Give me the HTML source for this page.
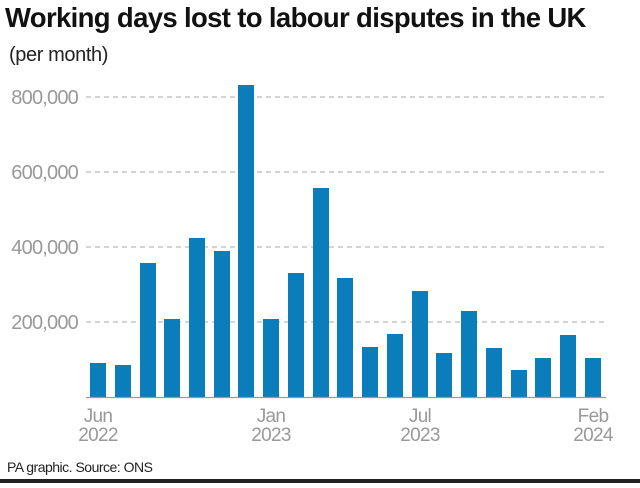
<!DOCTYPE html>
<html><head><style>
body{margin:0;background:#fff;width:640px;height:483px;overflow:hidden;font-family:"Liberation Sans",sans-serif;}
</style></head><body>
<svg width="640" height="483" xmlns="http://www.w3.org/2000/svg" font-family="Liberation Sans, sans-serif">
<text x="5" y="27" font-size="27.5" font-weight="bold" fill="#111" letter-spacing="-0.65">Working days lost to labour disputes in the UK</text>
<text x="9" y="61" font-size="20" fill="#222" letter-spacing="-0.4">(per month)</text>
<g stroke="#aaa" stroke-dasharray="5,4" stroke-width="1">
<line x1="86" y1="97" x2="606" y2="97"/><line x1="86" y1="172" x2="606" y2="172"/>
<line x1="86" y1="247" x2="606" y2="247"/><line x1="86" y1="322" x2="606" y2="322"/>
</g>
<g font-size="20" fill="#999" text-anchor="end" letter-spacing="-0.8">
<text x="78" y="104">800,000</text><text x="78" y="179">600,000</text>
<text x="78" y="254">400,000</text><text x="78" y="329">200,000</text>
</g>
<g fill="#0a7dba">
<rect x="90" y="363" width="16" height="34"/>
<rect x="115" y="365" width="16" height="32"/>
<rect x="140" y="263" width="16" height="134"/>
<rect x="164" y="319" width="16" height="78"/>
<rect x="189" y="238" width="16" height="159"/>
<rect x="214" y="251" width="16" height="146"/>
<rect x="238" y="85" width="16" height="312"/>
<rect x="263" y="319" width="16" height="78"/>
<rect x="288" y="273" width="16" height="124"/>
<rect x="313" y="188" width="16" height="209"/>
<rect x="337" y="278" width="16" height="119"/>
<rect x="362" y="347" width="16" height="50"/>
<rect x="387" y="334" width="16" height="63"/>
<rect x="412" y="291" width="16" height="106"/>
<rect x="436" y="353" width="16" height="44"/>
<rect x="461" y="311" width="16" height="86"/>
<rect x="486" y="348" width="16" height="49"/>
<rect x="511" y="370" width="16" height="27"/>
<rect x="535" y="358" width="16" height="39"/>
<rect x="560" y="335" width="16" height="62"/>
<rect x="585" y="358" width="16" height="39"/>
</g>
<line x1="86" y1="397.5" x2="606" y2="397.5" stroke="#999" stroke-width="1.2"/>
<g font-size="19" fill="#999" text-anchor="middle" letter-spacing="-0.7">
<text x="98" y="422">Jun</text><text x="98" y="441">2022</text>
<text x="271" y="422">Jan</text><text x="271" y="441">2023</text>
<text x="420" y="422">Jul</text><text x="420" y="441">2023</text>
<text x="593" y="422">Feb</text><text x="593" y="441">2024</text>
</g>
<text x="7" y="472" font-size="14" fill="#222" letter-spacing="-0.5">PA graphic. Source: ONS</text>
<rect x="0" y="479" width="640" height="4" fill="#222"/>
</svg>
</body></html>
